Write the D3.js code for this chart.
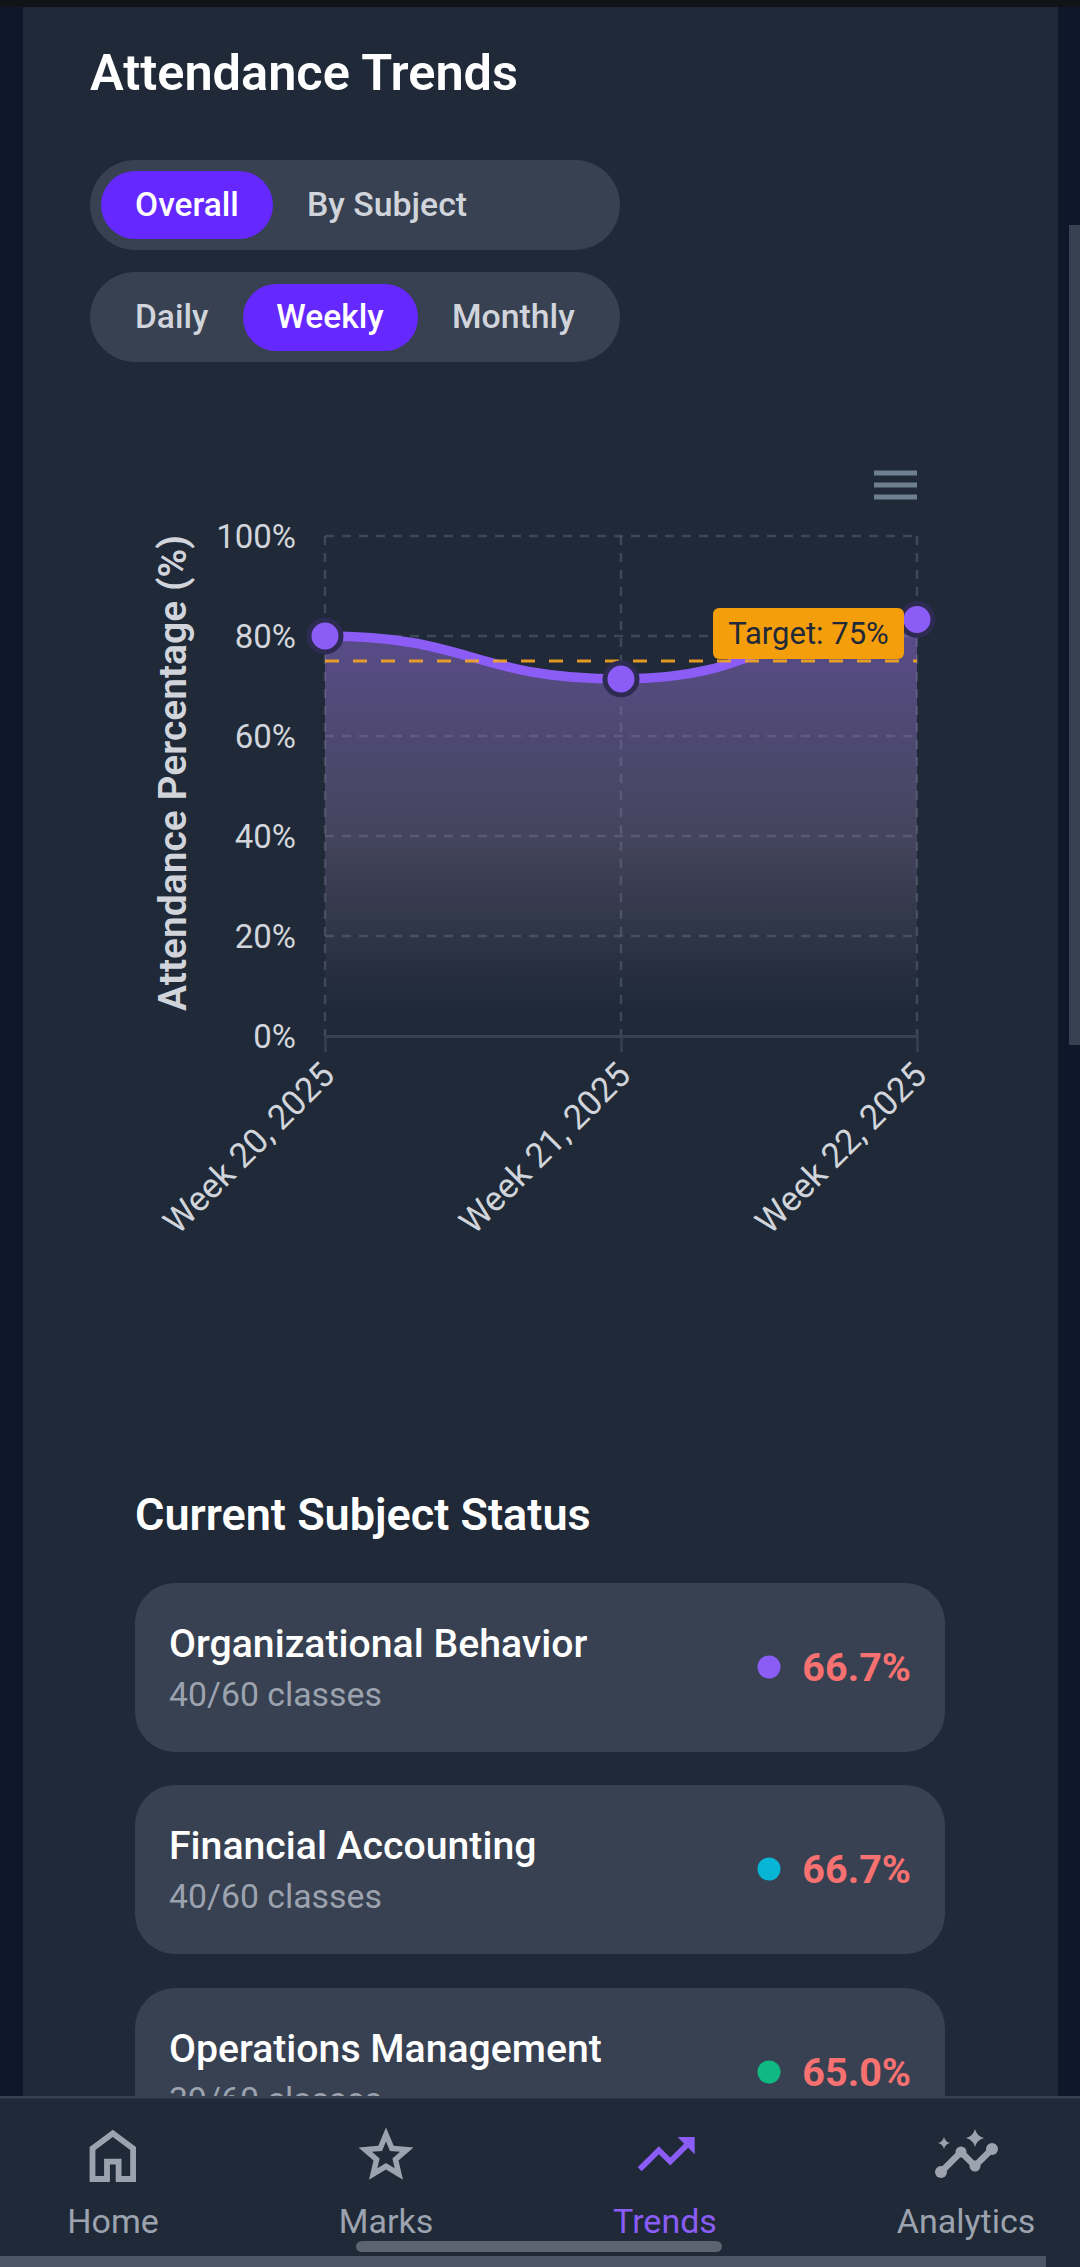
<!DOCTYPE html>
<html><head><meta charset="utf-8">
<script src="https://cdn.jsdelivr.net/npm/d3@7/dist/d3.min.js"></script>
<style>html,body{margin:0;padding:0;background:#0f172a;overflow:hidden}svg{display:block}text{font-family:Roboto,sans-serif}</style>
</head><body><svg id="c" width="1080" height="2267"></svg>
<script>
const weeks = ["Week 20, 2025","Week 21, 2025","Week 22, 2025"];
const attendance = [80, 71.4, 83.3];
const yTicks = [0,20,40,60,80,100];
const targetValue = 75;
const subjects = ["Organizational Behavior","Financial Accounting","Operations Management"];
const classes = ["40/60 classes","40/60 classes","39/60 classes"];
const percents = ["66.7%","66.7%","65.0%"];
const dotColors = ["#8b5cf6","#06b6d4","#10b981"];
const navLabels = ["Home","Marks","Trends","Analytics"];

const svg = d3.select("#c");
const PURPLE="#8b5cf6", CARD="#1f2937", SURF="#374151";
const T=(s,x,y,size,fill,weight=400,anchor="start",g=svg)=>g.append("text").attr("x",x).attr("y",y).attr("font-size",size).attr("fill",fill).attr("font-weight",weight).attr("text-anchor",anchor).text(s);
const R=(x,y,w,h,r,fill,g=svg)=>g.append("rect").attr("x",x).attr("y",y).attr("width",w).attr("height",h).attr("rx",r).attr("fill",fill);

R(0,0,1080,2267,0,"#0f172a");
R(0,0,1080,7,0,"#111318");
R(23,7,1035,2100,0,CARD);
R(1069,225,11,820,0,SURF);

T("Attendance Trends",90,90,50.5,"#fff",600);

// toggle pills
R(90,160,530,90,45,SURF); R(101,171,172,68,34,"#6528ff");
T("Overall",187,216,33.5,"#fff",500,"middle");
T("By Subject",307,216,33.8,"#d1d5db",500);
R(90,272,530,90,45,SURF); R(243,284,175,67,33,"#6528ff");
T("Daily",135,328,33.5,"#d1d5db",500);
T("Weekly",330,328,33.5,"#fff",500,"middle");
T("Monthly",452,328,33.8,"#d1d5db",500);

// chart
const x=d3.scalePoint().domain(weeks).range([325,917]);
const y=d3.scaleLinear().domain([0,100]).range([1036,536]);
const chart=svg.append("g");
const defs=svg.append("defs");
const grad=defs.append("linearGradient").attr("id","ag").attr("gradientUnits","userSpaceOnUse")
 .attr("x1",0).attr("x2",0).attr("y1",y(d3.max(attendance))).attr("y2",y(0));
grad.append("stop").attr("offset","0").attr("stop-color","#9a72ea").attr("stop-opacity",0.48);
grad.append("stop").attr("offset","0.52").attr("stop-color","#9a83b8").attr("stop-opacity",0.3);
grad.append("stop").attr("offset","0.76").attr("stop-color","#9080a8").attr("stop-opacity",0.14);
grad.append("stop").attr("offset","0.93").attr("stop-color","#9080a8").attr("stop-opacity",0);
const curve=d3.curveBumpX;
const GRID="#4b5563";
chart.selectAll(".gh").data(yTicks.filter(d=>d>0)).join("line").attr("x1",325).attr("x2",917).attr("y1",d=>y(d)).attr("y2",d=>y(d)).attr("stroke",GRID).attr("stroke-width",2.5).attr("stroke-dasharray","9 8").attr("opacity",.7);
chart.selectAll(".gv").data(weeks).join("line").attr("x1",d=>x(d)).attr("x2",d=>x(d)).attr("y1",536).attr("y2",1036).attr("stroke",GRID).attr("stroke-width",2.5).attr("stroke-dasharray","9 8").attr("opacity",.7);
chart.append("path").datum(attendance).attr("fill","url(#ag)")
 .attr("d",d3.area().x((d,i)=>x(weeks[i])).y0(y(0)).y1(d=>y(d)).curve(curve));
chart.append("path").datum(attendance).attr("fill","none").attr("stroke",PURPLE).attr("stroke-width",9.5)
 .attr("d",d3.line().x((d,i)=>x(weeks[i])).y(d=>y(d)).curve(curve));
chart.append("line").attr("x1",325).attr("x2",917).attr("y1",y(targetValue)).attr("y2",y(targetValue)).attr("stroke","#f5a623").attr("stroke-width",3).attr("stroke-dasharray","14 14").attr("opacity",.9);

// axes
const yAxis=d3.axisLeft(y).tickValues(yTicks).tickSize(0).tickPadding(29).tickFormat(d=>d+"%");
const ya=chart.append("g").attr("transform","translate(325,0)").call(yAxis);
ya.select(".domain").remove();
ya.selectAll("text").attr("font-size",33).attr("fill","#d1d5db").attr("font-family","Roboto").attr("dy","0.36em");
const xAxis=d3.axisBottom(x).tickSize(16).tickSizeOuter(0);
const xa=chart.append("g").attr("transform","translate(0,1036)").call(xAxis);
xa.select(".domain").attr("stroke",SURF).attr("stroke-width",3);
xa.selectAll("line").attr("stroke",SURF).attr("stroke-width",2.5);
xa.selectAll("text").attr("font-size",34.5).attr("fill","#d1d5db").attr("font-family","Roboto")
 .attr("text-anchor","end").attr("y",0).attr("dy",0)
 .attr("transform","translate(11,41) rotate(-45)");
svg.append("text").attr("transform","translate(186,773) rotate(-90)").attr("text-anchor","middle")
 .attr("font-size",39).attr("font-weight",600).attr("fill","#d1d5db").text("Attendance Percentage (%)");

// menu icon
[473,485,497].forEach(v=>R(874,v-2.5,43,5,0,"#6e7f90"));

// target label
R(713,608,191,51,6,"#f59e0b");
T("Target: "+targetValue+"%",808.5,644,31,"#1f2937",400,"middle");

// points
chart.selectAll(".pt").data(attendance).join("circle").attr("cx",(d,i)=>x(weeks[i])).attr("cy",d=>y(d)).attr("r",16).attr("fill",PURPLE).attr("stroke","#2e2b52").attr("stroke-width",5);

// subject cards
T("Current Subject Status",135,1530,45,"#fff",600);
const cardTop=[1583,1785,1988];
const rows=svg.append("g");
subjects.forEach((s,i)=>{
 const t=cardTop[i];
 R(135,t,810,169,40,SURF,rows);
 T(s,169,t+74,39.2,"#fff",500,"start",rows);
 T(classes[i],169,t+123,33.8,"#9ca3af",400,"start",rows);
 rows.append("circle").attr("cx",769).attr("cy",t+84).attr("r",11.5).attr("fill",dotColors[i]);
 T(percents[i],911,t+98,39.5,"#f87171",700,"end",rows);
});

// bottom nav
R(0,2096,1080,171,0,CARD);
R(0,2096,1080,2.5,0,SURF);
const navX=[113,386,665,966];
navLabels.forEach((l,i)=>T(l,navX[i],2233,34,i===2?PURPLE:"#9ca3af",400,"middle"));
const icon=(d,tx,ty,s,fill)=>svg.append("path").attr("d",d).attr("fill",fill).attr("transform",`translate(${tx},${ty}) scale(${s})`);
icon("M6 19h3v-6h6v6h3v-9l-6-4.5-6 4.5v9Zm-2 2V9l8-6 8 6v12h-7v-6h-2v6H4Z",78,2121,2.9,"#9ca3af");
icon("M8.85 16.825l3.15-1.9 3.15 1.925-.825-3.6 2.775-2.4-3.65-.325-1.45-3.4-1.45 3.375-3.65.325 2.775 2.425-.825 3.575ZM5.825 21l1.625-7.025L2 9.25l7.2-.625L12 2l2.8 6.625 7.2.625-5.45 4.725L18.175 21 12 17.275 5.825 21Z",353,2122,2.75,"#9ca3af");
icon("M16 6l2.29 2.29-4.88 4.88-4-4L2 16.59 3.41 18l6-6 4 4 6.3-6.29L22 12V6h-6z",632,2120,2.85,PURPLE);
// analytics icon: line with rounded nodes and two sparkles
const G="#9ca3af";
svg.append("path").attr("d","M941 2172L961 2152L975 2166L992 2149").attr("fill","none").attr("stroke",G).attr("stroke-width",6.5).attr("stroke-linejoin","round");
[[941,2172,6],[961,2152,5.5],[975,2166,5.5],[992,2149,6]].forEach(c=>svg.append("circle").attr("cx",c[0]).attr("cy",c[1]).attr("r",c[2]).attr("fill",G));
const spark=(cx,cy,r)=>`M${cx} ${cy-r}Q${cx+r*.2} ${cy-r*.2} ${cx+r} ${cy}Q${cx+r*.2} ${cy+r*.2} ${cx} ${cy+r}Q${cx-r*.2} ${cy+r*.2} ${cx-r} ${cy}Q${cx-r*.2} ${cy-r*.2} ${cx} ${cy-r}Z`;
svg.append("path").attr("d",spark(975,2138,9)).attr("fill",G);
svg.append("path").attr("d",spark(944,2143,6)).attr("fill",G);

R(0,2256,1046,11,0,"#4b5563");
R(356,2241,366,11,6,"#5b6470");
</script></body></html>
